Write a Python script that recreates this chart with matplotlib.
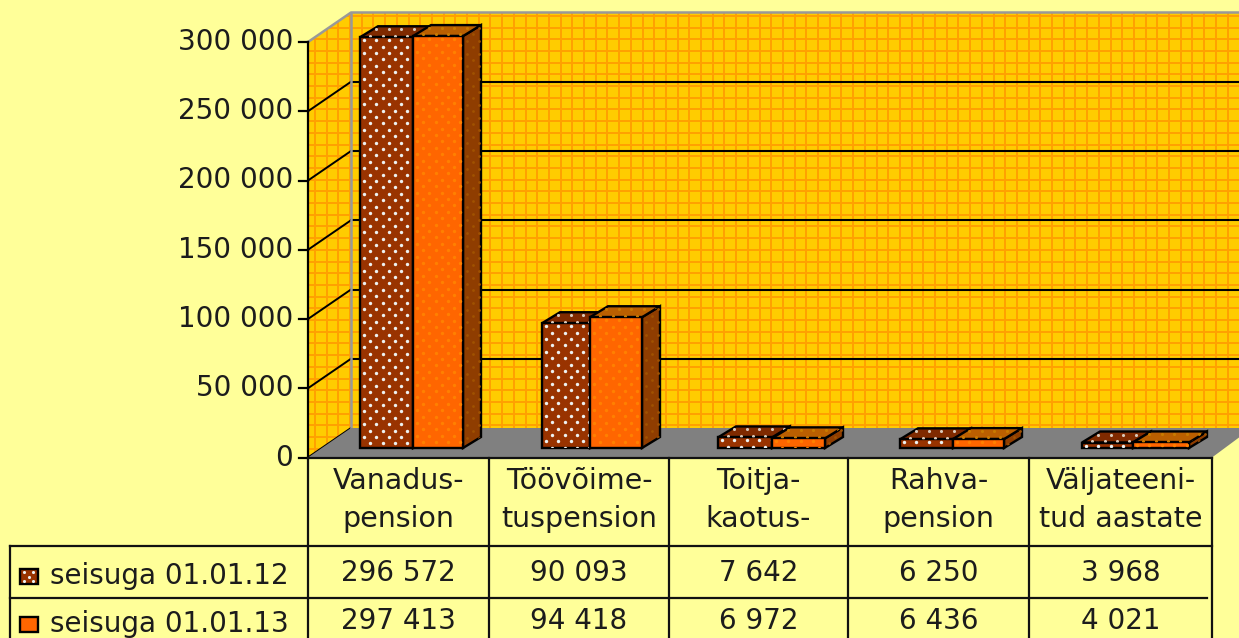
import numpy as np
import matplotlib
matplotlib.use('Agg')
import matplotlib.pyplot as plt
from matplotlib.patches import Polygon, Rectangle
from matplotlib.collections import LineCollection

# andmed
categories = [['Vanadus-', 'pension'], ['Töövõime-', 'tuspension'], ['Toitja-', 'kaotus-'],
              ['Rahva-', 'pension'], ['Väljateeni-', 'tud aastate']]
series_names = ['seisuga 01.01.12', 'seisuga 01.01.13']
values_2012 = [296572, 90093, 7642, 6250, 3968]
values_2013 = [297413, 94418, 6972, 6436, 4021]
y_ticks = [0, 50000, 100000, 150000, 200000, 250000, 300000]
y_labels = ['0', '50 000', '100 000', '150 000', '200 000', '250 000', '300 000']

W, H = 1239, 638
BG = '#FFFF99'
TXT = '#1c1c1c'
font = 'DejaVu Sans'
fs = 20
fs_cat = 20.5

# geomeetria pikslites
x_edges = [308, 489, 669, 848, 1029, 1212]
bar_left = [360, 542, 718, 900, 1082]
bar_mid = [413, 590, 772, 953, 1133]
bar_right = [463, 642, 825, 1004, 1189]
y0, px_per_unit = 457.5, 415.5 / 300000
dx, dy = 43, -29.5      # tagasein
bx, by = 18, -11        # tulba sügavus
base_y = 448


def yv(v, base=y0):
    return base - v * px_per_unit


fig = plt.figure(figsize=(W / 100, H / 100), dpi=100, facecolor=BG)
ax = fig.add_axes([0, 0, 1, 1])
ax.set_xlim(0, W)
ax.set_ylim(H, 0)
ax.axis('off')

# seinad
top = yv(300000)
walls = Polygon([(x_edges[0], y0), (x_edges[0], top), (x_edges[0] + dx, top + dy), (W, top + dy),
                 (W, y0 + dy), (x_edges[0] + dx, y0 + dy)], closed=True, fc='#FFCC00', ec='none', zorder=1)
ax.add_patch(walls)
segs = [[(x, 0), (x, y0)] for x in np.arange(303.3, W, 11.7)]
segs += [[(300, y), (W, y)] for y in np.arange(15.8, y0, 11.7)]
grid = LineCollection(segs, colors='#FFA000', linewidths=1.4, zorder=1.1)
ax.add_collection(grid)
grid.set_clip_path(walls)

# ruudustik
for t in y_ticks[1:-1]:
    yy = yv(t)
    ax.plot([x_edges[0] + dx, W], [yy + dy, yy + dy], color='black', lw=1.5, zorder=2)
for t in y_ticks[:-1]:
    yy = yv(t)
    ax.plot([x_edges[0], x_edges[0] + dx], [yy, yy + dy], color='black', lw=1.4, zorder=2)
ax.plot([x_edges[0], x_edges[0] + dx, W], [top, top + dy, top + dy], color='#999999', lw=1.8, zorder=2)
ax.plot([x_edges[0] + dx] * 2, [top + dy, y0 + dy], color='#999999', lw=1.8, zorder=2)

# põrand
ax.add_patch(Polygon([(x_edges[0], y0), (x_edges[0] + dx, y0 + dy), (W, y0 + dy), (W, y0 - 20), (x_edges[-1], y0)],
                     closed=True, fc='#808080', ec='none', zorder=2.5))


def dots(x1, x2, y1, y2, color, clip, size=6):
    px, py = [], []
    for r, yy in enumerate(np.arange(y1 + 3, y2, 6.4)):
        start = x1 + 4 + (r % 2) * 6.2
        for xx in np.arange(start, x2, 12.4):
            px.append(xx)
            py.append(yy)
    if px:
        s = ax.scatter(px, py, s=size, c=color, linewidths=0, zorder=clip.get_zorder() + 0.01)
        s.set_clip_path(clip)


def box(x1, x2, v, front, side, roof, dot_front, dot_side, dot_roof, z):
    t = yv(v, base_y)
    f = Polygon([(x1, base_y), (x2, base_y), (x2, t), (x1, t)], closed=True, fc=front, ec='black', lw=1.7, zorder=z)
    s = Polygon([(x2, base_y), (x2 + bx, base_y + by), (x2 + bx, t + by), (x2, t)], closed=True, fc=side, ec='black', lw=1.7, zorder=z)
    r = Polygon([(x1, t), (x2, t), (x2 + bx, t + by), (x1 + bx, t + by)], closed=True, fc=roof, ec='black', lw=1.7, zorder=z)
    for p in (s, r, f):
        ax.add_patch(p)
    dots(x1, x2, t, base_y, dot_front, f)
    dots(x2, x2 + bx, t + by, base_y, dot_side, s, 4)
    dots(x1, x2 + bx, t + by, t, dot_roof, r, 5)


for i in range(len(values_2012)):
    box(bar_left[i], bar_mid[i], values_2012[i], '#993300', '#7A2900', '#7F2A00', '#EDF2F2', '#A84A10', '#D8C8B8', 3 + i * 0.1)
    box(bar_mid[i], bar_right[i], values_2013[i], '#FF6600', '#8F3D00', '#BB5F00', '#FF8000', '#A05200', '#C87A00', 3.05 + i * 0.1)

# y-telg
ax.plot([x_edges[0]] * 2, [top, y0], color='black', lw=1.6, zorder=4)
for t, lab in zip(y_ticks, y_labels):
    yy = yv(t)
    ax.plot([x_edges[0] - 9, x_edges[0]], [yy, yy], color='black', lw=1.6, zorder=4)
    ax.text(293, yy, lab, ha='right', va='center', family=font, fontsize=fs, color=TXT)

# tabel
row_y = [457.5, 546, 598]
for x in x_edges:
    ax.plot([x, x], [row_y[0], H], color='#111111', lw=1.6, zorder=4)
ax.plot([10, 10], [row_y[1], H], color='#111111', lw=1.6, zorder=4)
ax.plot([x_edges[0], x_edges[-1]], [row_y[0], row_y[0]], color='#111111', lw=1.6, zorder=4)
ax.plot([10, x_edges[-1]], [row_y[1], row_y[1]], color='#111111', lw=1.6, zorder=4)
ax.plot([10, x_edges[-1] - 5], [row_y[2], row_y[2]], color='#111111', lw=1.6, zorder=4)

for i, lines in enumerate(categories):
    cx = (x_edges[i] + x_edges[i + 1]) / 2
    ax.text(cx, 481, lines[0], ha='center', va='center', family=font, fontsize=fs_cat, color=TXT)
    ax.text(cx, 519, lines[1], ha='center', va='center', family=font, fontsize=fs_cat, color=TXT)
    ax.text(cx, 573, f'{values_2012[i]:,}'.replace(',', ' '), ha='center', va='center', family=font, fontsize=fs, color=TXT)
    ax.text(cx, 621, f'{values_2013[i]:,}'.replace(',', ' '), ha='center', va='center', family=font, fontsize=fs, color=TXT)

# legend
leg_y = [569, 617]
leg_col = ['#993300', '#FF6600']
for yy, name, c in zip(leg_y, series_names, leg_col):
    ax.add_patch(Rectangle((20, yy), 18, 15, fc=c, ec='black', lw=1.7, zorder=4))
    ax.text(50, yy + 7, name, ha='left', va='center', family=font, fontsize=fs, color=TXT)
ax.scatter([24, 33, 28.5, 24, 33], [572, 572, 576.5, 581, 581], s=5, c='#EDF2F2', linewidths=0, zorder=5)

fig.savefig('out.png', dpi=100, facecolor=BG)
